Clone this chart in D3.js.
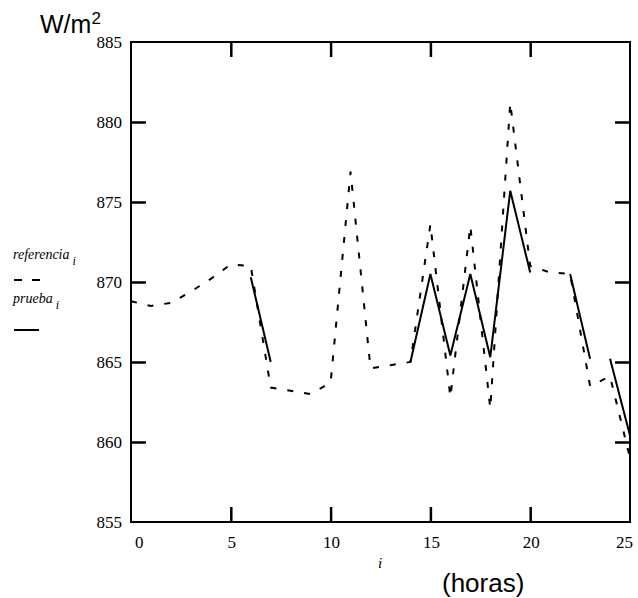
<!DOCTYPE html>
<html>
<head>
<meta charset="utf-8">
<script src="https://cdn.jsdelivr.net/npm/d3@7/dist/d3.min.js"></script>
<style>
  html, body { margin: 0; padding: 0; background: #fff; }
  svg { display: block; }
</style>
</head>
<body>
<svg id="chart" width="638" height="598"></svg>
<script>
// ---- data ----
const hours = [0,1,2,3,4,5,6,7,8,9,10,11,12,13,14,15,16,17,18,19,20,21,22,23,24,25];
const referencia = [868.8,868.5,868.7,869.4,870.2,871.1,871.0,863.4,863.2,863.0,863.7,876.9,864.6,864.8,865.0,873.6,862.8,873.5,862.1,881.2,871.0,870.6,870.5,863.5,864.1,859.0];
// prueba: only the visible pieces; null marks a break in the trace
const pruebaHours = [6,7,null,14,15,16,17,18,19,20,null,22,23,null,24,25];
const prueba      = [870.3,865.0,null,865.0,870.5,865.4,870.5,865.3,875.7,870.6,null,870.5,865.2,null,865.2,860.4];
const xTicks = [0,5,10,15,20,25];
const yTicks = [855,860,865,870,875,880,885];

// ---- layout ----
const L = 131, R = 630, T = 42, B = 522, TK = 15;
const svg = d3.select("#chart");
const x = d3.scaleLinear().domain([0,25]).range([L,R]);
const y = d3.scaleLinear().domain([855,885]).range([B,T]);

const serif = "'Liberation Serif','Times New Roman',serif";
const sans = "'Liberation Sans',Arial,sans-serif";

// frame
svg.append("rect").attr("x",L).attr("y",T).attr("width",R-L).attr("height",B-T)
  .attr("fill","none").attr("stroke","#000").attr("stroke-width",2);

// inner ticks via d3 axes (all four sides)
const axL = svg.append("g").attr("transform",`translate(${L},0)`)
  .call(d3.axisRight(y).tickValues(yTicks.slice(1,-1)).tickSize(TK).tickFormat(""));
const axR = svg.append("g").attr("transform",`translate(${R},0)`)
  .call(d3.axisLeft(y).tickValues(yTicks.slice(1,-1)).tickSize(TK).tickFormat(""));
const axB = svg.append("g").attr("transform",`translate(0,${B})`)
  .call(d3.axisTop(x).tickValues(xTicks.slice(1,-1)).tickSize(TK).tickFormat(""));
const axT = svg.append("g").attr("transform",`translate(0,${T})`)
  .call(d3.axisBottom(x).tickValues(xTicks.slice(1,-1)).tickSize(TK).tickFormat(""));
[axL,axR,axB,axT].forEach(g => {
  g.select(".domain").remove();
  g.selectAll(".tick line").attr("stroke","#000").attr("stroke-width",2.5);
});

// tick labels
svg.append("g").selectAll("text").data(yTicks).join("text")
  .attr("x",L-9).attr("y",d=>y(d)).attr("dy","0.35em")
  .attr("text-anchor","end").attr("font-family",serif).attr("font-size",17).attr("fill","#000")
  .text(d=>d);
svg.append("g").selectAll("text").data(xTicks).join("text")
  .attr("x",(d,i)=> x(d) + (i===0 ? 4 : (i===xTicks.length-1 ? 3 : 1)))
  .attr("y",B+26)
  .attr("text-anchor",(d,i)=> i===0 ? "start" : (i===xTicks.length-1 ? "end" : "middle"))
  .attr("font-family",serif).attr("font-size",17).attr("fill","#000")
  .text(d=>d);

// clip
svg.append("clipPath").attr("id","clip").append("rect")
  .attr("x",L).attr("y",T-2).attr("width",R-L).attr("height",B-T+4);

// referencia (dashed)
const lineRef = d3.line().x((d,i)=>x(hours[i])).y(d=>y(d)).defined(d=>d!=null);
svg.append("path").datum(referencia).attr("d",lineRef)
  .attr("fill","none").attr("stroke","#000").attr("stroke-width",2)
  .attr("stroke-dasharray","6,11").attr("clip-path","url(#clip)");

// prueba (solid)
const linePr = d3.line().x((d,i)=>x(pruebaHours[i])).y(d=>y(d)).defined(d=>d!=null);
svg.append("path").datum(prueba).attr("d",linePr)
  .attr("fill","none").attr("stroke","#000").attr("stroke-width",2)
  .attr("clip-path","url(#clip)");

// unit label
const wt = svg.append("text").attr("x",40).attr("y",33)
  .attr("font-family",sans).attr("font-size",25).attr("fill","#000");
wt.append("tspan").text("W/m");
wt.append("tspan").attr("font-size",17).attr("dy",-9).text("2");

// legend
function subLabel(tx, ty, main){
  const t = svg.append("text").attr("x",tx).attr("y",ty)
    .attr("font-family",serif).attr("font-style","italic").attr("font-size",14).attr("fill","#000");
  t.append("tspan").text(main);
  t.append("tspan").attr("font-size",12).attr("dy",6).attr("dx",3).text("i");
}
subLabel(13, 259, "referencia");
svg.append("line").attr("x1",14).attr("x2",40).attr("y1",280).attr("y2",280)
  .attr("stroke","#000").attr("stroke-width",2).attr("stroke-dasharray","8,10");
subLabel(13, 303, "prueba");
svg.append("line").attr("x1",14).attr("x2",39).attr("y1",330).attr("y2",330)
  .attr("stroke","#000").attr("stroke-width",2);

// x-axis titles
svg.append("text").attr("x",378).attr("y",568)
  .attr("font-family",serif).attr("font-style","italic").attr("font-size",15).attr("fill","#000").text("i");
svg.append("text").attr("x",442).attr("y",592)
  .attr("font-family",sans).attr("font-size",26).attr("fill","#000").text("(horas)");
</script>
</body>
</html>
